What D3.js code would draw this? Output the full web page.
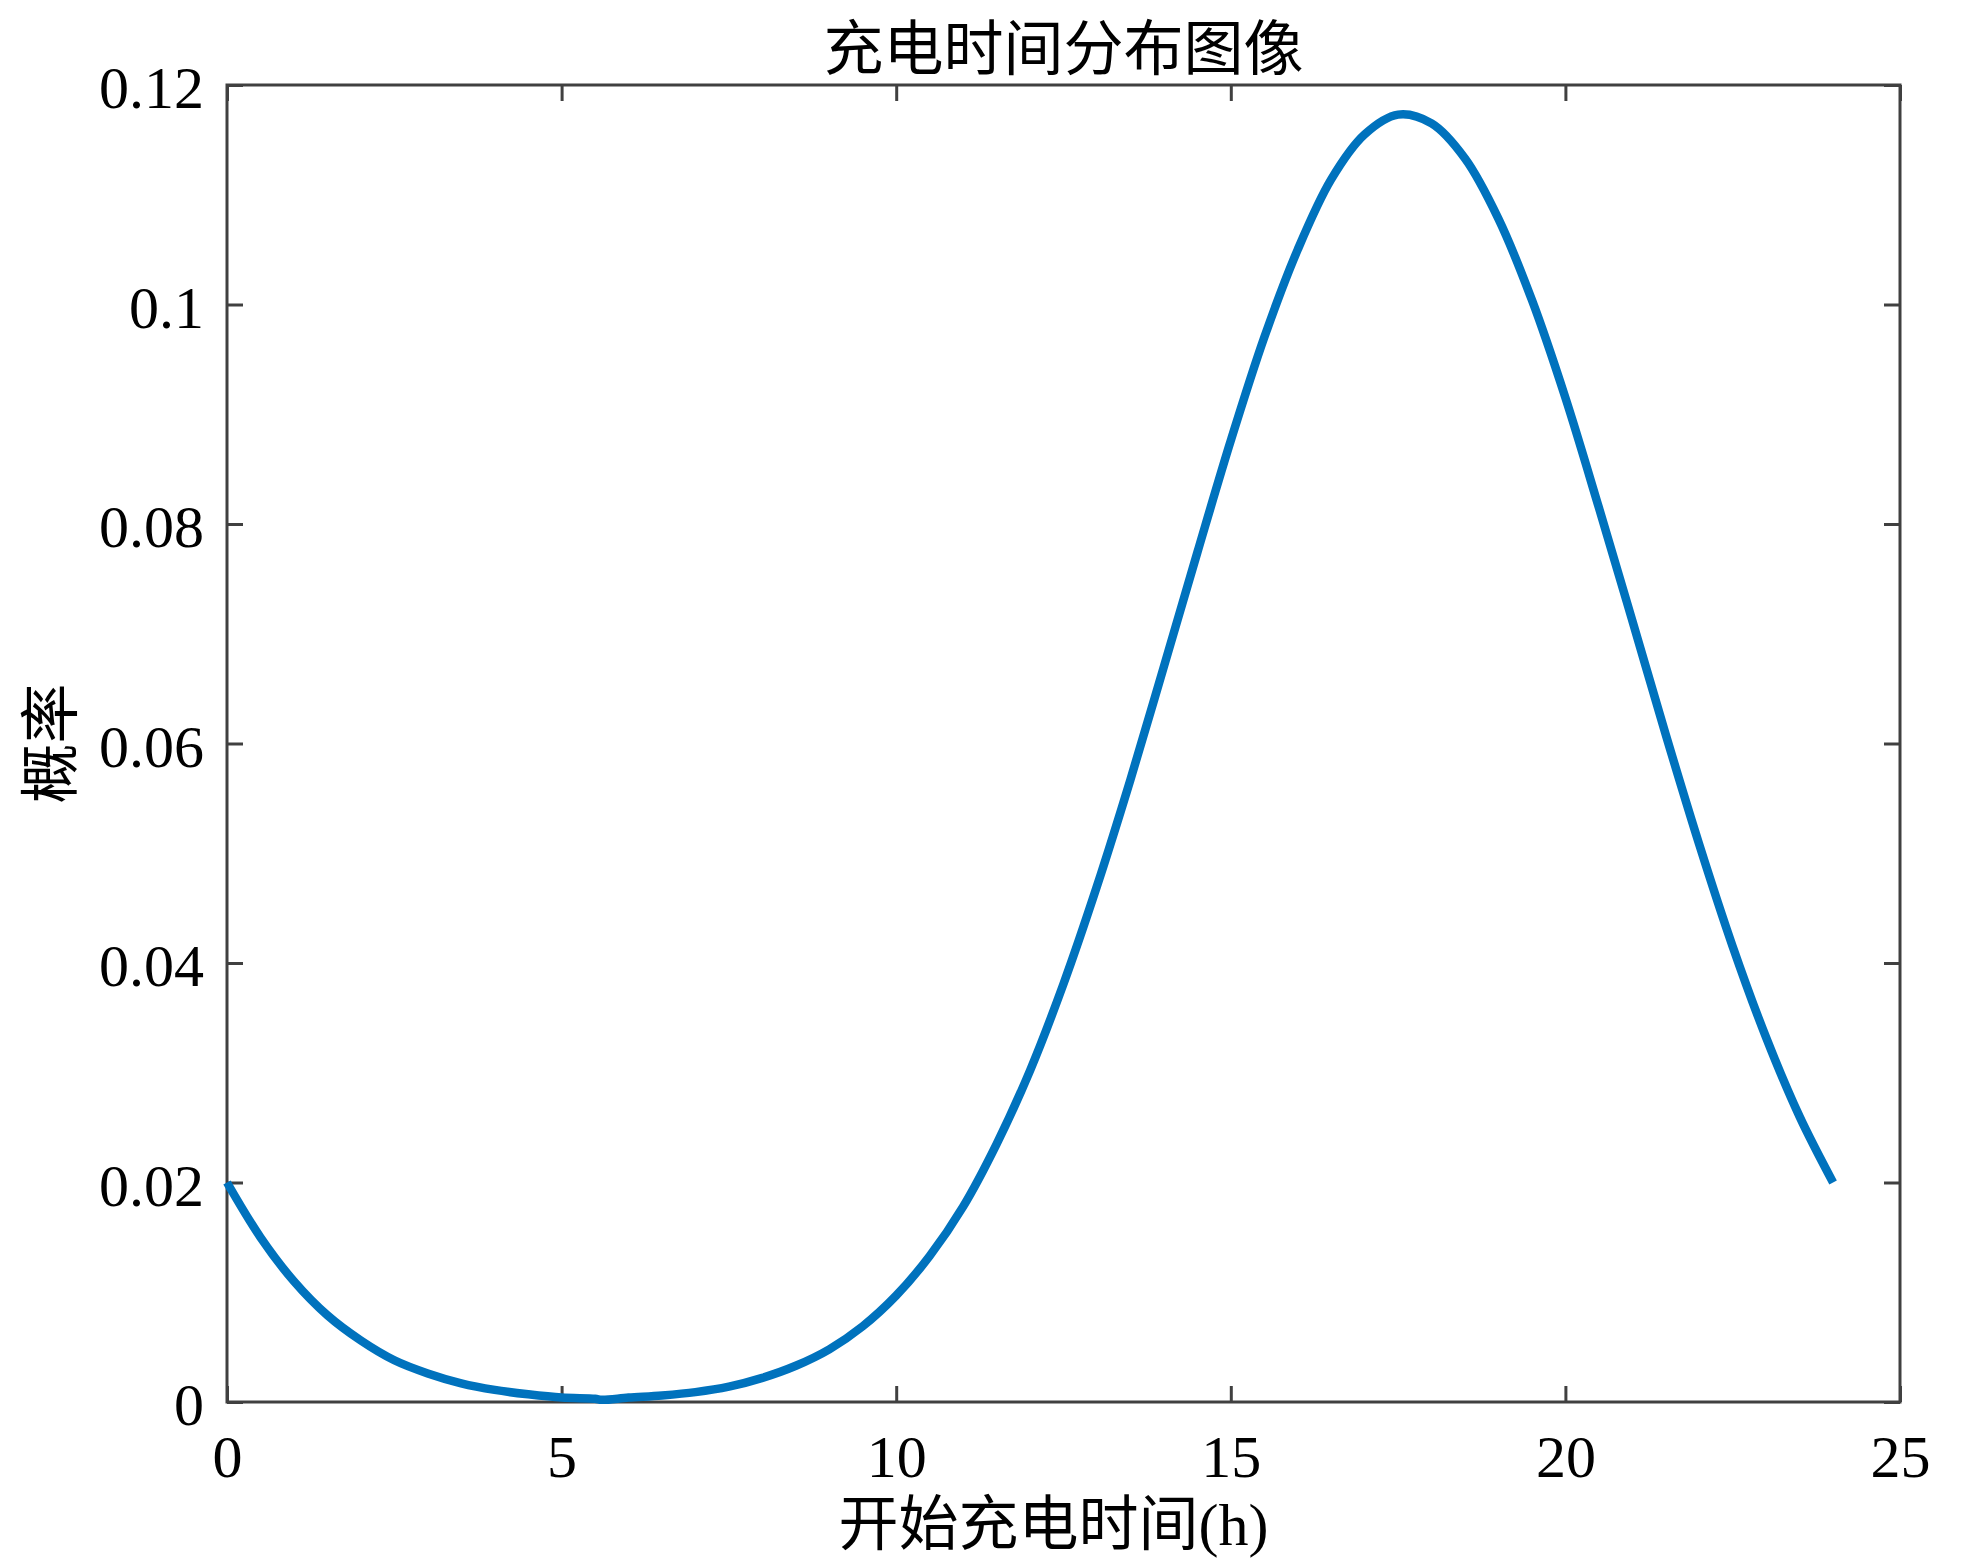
<!DOCTYPE html>
<meta charset="utf-8">
<style>
body { margin: 0; background: #fff; }
text { font-family: "Liberation Serif", "Noto Sans CJK SC", serif; fill: #000; }
</style>
<body>
<script src="https://cdn.jsdelivr.net/npm/d3@7"></script>
<script>

// start hour and probability
var hours = [0, 0.5, 1, 1.5, 2, 2.5, 3, 3.5, 4, 4.5, 5, 5.5, 5.6, 6, 6.5, 7, 7.5, 8, 8.5, 9, 9.5,
             10, 10.5, 11, 11.5, 12, 12.5, 13, 13.5, 14, 14.5, 15, 15.5, 16, 16.5, 17, 17.5,
             18, 18.5, 19, 19.5, 20, 20.5, 21, 21.5, 22, 22.5, 23, 23.5, 24];
var prob = [0.0200, 0.0150, 0.0110, 0.0079, 0.0056, 0.0038, 0.0026, 0.0017, 0.0011, 0.0007, 0.0004, 0.0003, 0.0002,
            0.0004, 0.0006, 0.0009, 0.0014, 0.0022, 0.0033, 0.0048, 0.0069,
            0.0097, 0.0133, 0.0178, 0.0235, 0.0302, 0.0381, 0.0470, 0.0567, 0.0670, 0.0774, 0.0876, 0.0970, 0.1050, 0.1114, 0.1155, 0.1173,
            0.1165, 0.1133, 0.1078, 0.1004, 0.0915, 0.0815, 0.0712, 0.0608, 0.0508, 0.0415, 0.0332, 0.0260, 0.0200];

var xTicks = [0, 5, 10, 15, 20, 25];
var yTicks = [0, 0.02, 0.04, 0.06, 0.08, 0.1, 0.12];
var yTickLabels = ["0", "0.02", "0.04", "0.06", "0.08", "0.1", "0.12"];

var title = "充电时间分布图像",
    xTitle = "开始充电时间(h)",
    yTitle = "概率";

var W = 1969, H = 1561;
var margin = {top: 85, right: 69, bottom: 159, left: 227},
    width = W - margin.left - margin.right,
    height = H - margin.top - margin.bottom;

var x = d3.scaleLinear().domain([0, 25]).range([0, width]);
var y = d3.scaleLinear().domain([0, 0.12]).range([height, 0]);

var svg = d3.select("body").append("svg")
    .attr("width", W)
    .attr("height", H);

var g = svg.append("g")
    .attr("transform", "translate(" + margin.left + "," + margin.top + ")");

function styleAxis(sel, showLabels) {
  sel.selectAll(".domain").remove();
  sel.selectAll(".tick line").attr("stroke", "#404040").attr("stroke-width", 3);
  sel.selectAll(".tick text").attr("font-size", 60).attr("fill", "#000")
     .style("display", showLabels ? null : "none");
}

g.append("g")
    .attr("transform", "translate(0," + height + ")")
    .call(d3.axisBottom(x).tickValues(xTicks).tickSize(-16).tickSizeOuter(0).tickPadding(32))
    .call(styleAxis, true);

g.append("g")
    .call(d3.axisTop(x).tickValues(xTicks).tickSize(-16).tickSizeOuter(0))
    .call(styleAxis, false);

g.append("g")
    .call(d3.axisLeft(y).tickValues(yTicks).tickSize(-16).tickSizeOuter(0).tickPadding(23)
      .tickFormat(function(d, i) { return yTickLabels[i]; }))
    .call(styleAxis, true)
    .selectAll(".tick text").attr("dy", "0.38em");

g.append("g")
    .attr("transform", "translate(" + width + ",0)")
    .call(d3.axisRight(y).tickValues(yTicks).tickSize(-16).tickSizeOuter(0))
    .call(styleAxis, false);

// frame
g.append("rect")
    .attr("width", width)
    .attr("height", height)
    .attr("fill", "none")
    .attr("stroke", "#404040")
    .attr("stroke-width", 3);

var line = d3.line()
    .x(function(d, i) { return x(hours[i]); })
    .y(function(d) { return y(d); })
    .curve(d3.curveCatmullRom.alpha(0.5));

g.append("path")
    .datum(prob)
    .attr("d", line)
    .attr("fill", "none")
    .attr("stroke", "#0072BD")
    .attr("stroke-width", 8.5)
    .attr("stroke-linejoin", "round");

svg.append("text")
    .attr("x", margin.left + width / 2)
    .attr("y", 70)
    .attr("text-anchor", "middle")
    .attr("font-size", 60)
    .text(title);

svg.append("text")
    .attr("x", margin.left + width / 2 - 10)
    .attr("y", 1545)
    .attr("text-anchor", "middle")
    .attr("font-size", 60)
    .text(xTitle);

svg.append("text")
    .attr("transform", "translate(72," + (margin.top + height / 2) + ") rotate(-90)")
    .attr("text-anchor", "middle")
    .attr("font-size", 60)
    .text(yTitle);

</script>
